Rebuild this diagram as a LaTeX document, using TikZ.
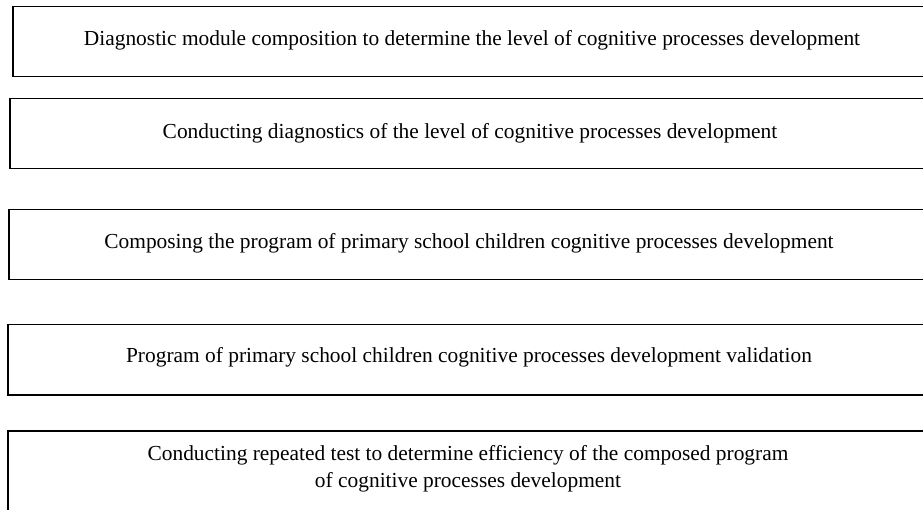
\documentclass[tikz,border=0pt]{standalone}
\usepackage{fontspec}
\setmainfont{Liberation Serif}
\begin{document}
\begin{tikzpicture}[x=1pt,y=-1pt,
  stagebox/.style={draw=black, line width=1.5pt, rectangle, inner sep=0pt,
    anchor=north west, minimum width=940pt, minimum height=70pt},
  stagetext/.style={font=\fontsize{21.4}{26.5}\selectfont, align=center, inner sep=0pt}]
  \useasboundingbox (0,0) rectangle (923,510);
  \clip (0,0) rectangle (923,510);
  % stage frames (open to the right)
  \node[stagebox] (b1) at (12,6) {};
  \node[stagebox] (b2) at (9,98) {};
  \node[stagebox] (b3) at (8,209) {};
  \node[stagebox] (b4) at (7,324) {};
  \node[stagebox, minimum height=100pt] (b5) at (7,430) {};
  % stage captions
  \node[stagetext, anchor=base] (t1) at (472,46) {Diagnostic module composition to determine the level of cognitive processes development};
  \node[stagetext, anchor=base] (t2) at (470,139) {Conducting diagnostics of the level of cognitive processes development};
  \node[stagetext, anchor=base] (t3) at (469,249) {Composing the program of primary school children cognitive processes development};
  \node[stagetext, anchor=base] (t4) at (469,362) {Program of primary school children cognitive processes development validation};
  \node[stagetext] (t5) at (468,469) {Conducting repeated test to determine efficiency of the composed program\\of cognitive processes development};
\end{tikzpicture}
\end{document}
